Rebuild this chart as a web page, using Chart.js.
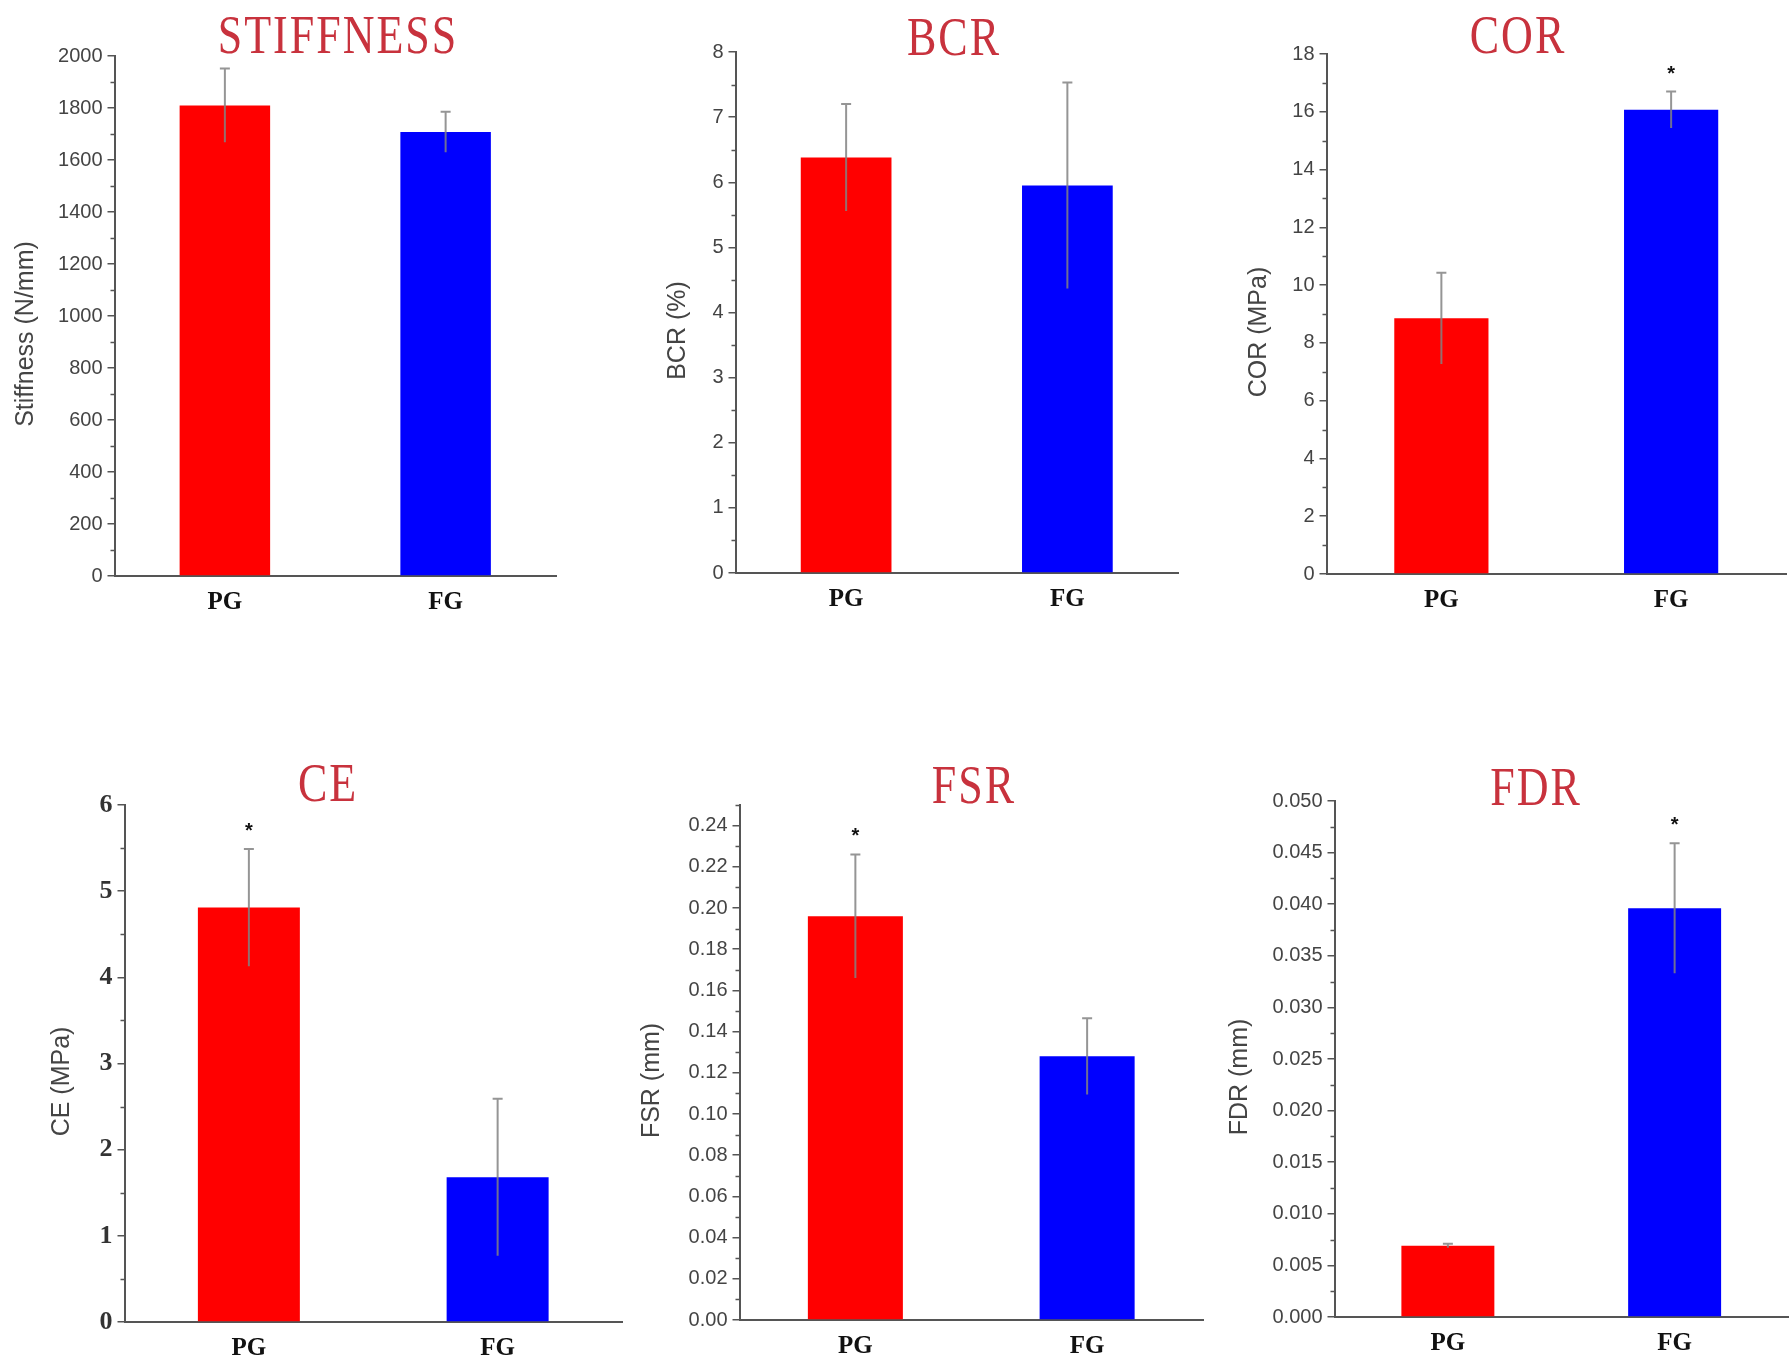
<!DOCTYPE html>
<html>
<head>
<meta charset="utf-8">
<script src="https://cdn.jsdelivr.net/npm/chart.js@4"></script>
<style>
  html, body { margin: 0; padding: 0; background: #fff; width: 1789px; height: 1369px; overflow: hidden; }
  canvas { position: absolute; }
</style>
</head>
<body>
<script>
// Group names on every x axis
const GROUPS = ["PG", "FG"];

// Means and standard deviations
const STIFF_MEAN = [1810, 1708];
const STIFF_SD = [142, 78];
const STIFF_SIG = [false, false];
const STIFF_TICKS = ["0", "200", "400", "600", "800", "1000", "1200", "1400", "1600", "1800", "2000"];

const BCR_MEAN = [6.38, 5.95];
const BCR_SD = [0.82, 1.58];
const BCR_SIG = [false, false];
const BCR_TICKS = ["0", "1", "2", "3", "4", "5", "6", "7", "8"];

const COR_MEAN = [8.85, 16.07];
const COR_SD = [1.58, 0.63];
const COR_SIG = [false, true];
const COR_TICKS = ["0", "2", "4", "6", "8", "10", "12", "14", "16", "18"];

const CE_MEAN = [4.81, 1.68];
const CE_SD = [0.68, 0.91];
const CE_SIG = [true, false];
const CE_TICKS = ["0", "1", "2", "3", "4", "5", "6"];

const FSR_MEAN = [0.196, 0.128];
const FSR_SD = [0.030, 0.0185];
const FSR_SIG = [true, false];
const FSR_TICKS = ["0.00", "0.02", "0.04", "0.06", "0.08", "0.10", "0.12", "0.14", "0.16", "0.18", "0.20", "0.22", "0.24"];

const FDR_MEAN = [0.0069, 0.0396];
const FDR_SD = [0.0002, 0.0063];
const FDR_SIG = [false, true];
const FDR_TICKS = ["0.000", "0.005", "0.010", "0.015", "0.020", "0.025", "0.030", "0.035", "0.040", "0.045", "0.050"];

const SANS = '"Liberation Sans", Arial, sans-serif';
const SERIF = '"Liberation Serif", "Times New Roman", serif';
const AXIS = "#555";

// Page layout: plot area box (page px), title anchor, y-title distance from the axis.
const PANELS = [
  { title: "STIFFNESS", yTitle: "Stiffness (N/mm)", mean: STIFF_MEAN, sd: STIFF_SD, sig: STIFF_SIG, ticks: STIFF_TICKS,
    max: 2000, minor: 100, area: [114, 56, 556, 576], canvasTop: 0, titleAt: [338, 53], yTitleGap: 88 },
  { title: "BCR", yTitle: "BCR (%)", mean: BCR_MEAN, sd: BCR_SD, sig: BCR_SIG, ticks: BCR_TICKS,
    max: 8, minor: 0.5, area: [735, 52, 1178, 573], canvasTop: 0, titleAt: [954, 55], yTitleGap: 57 },
  { title: "COR", yTitle: "COR (MPa)", mean: COR_MEAN, sd: COR_SD, sig: COR_SIG, ticks: COR_TICKS,
    max: 18, minor: 1, area: [1326, 54, 1786, 574], canvasTop: 0, titleAt: [1518, 53], yTitleGap: 67 },
  { title: "CE", yTitle: "CE (MPa)", mean: CE_MEAN, sd: CE_SD, sig: CE_SIG, ticks: CE_TICKS,
    max: 6, minor: 0.5, area: [124, 805, 622, 1322], canvasTop: 700, titleAt: [328, 801], yTitleGap: 62,
    tickFont: { family: SERIF, size: 26, weight: "bold" }, tickColor: "#333" },
  { title: "FSR", yTitle: "FSR (mm)", mean: FSR_MEAN, sd: FSR_SD, sig: FSR_SIG, ticks: FSR_TICKS,
    max: 0.25, minor: 0.01, area: [739, 805, 1203, 1320], canvasTop: 700, titleAt: [974, 803], yTitleGap: 87 },
  { title: "FDR", yTitle: "FDR (mm)", mean: FDR_MEAN, sd: FDR_SD, sig: FDR_SIG, ticks: FDR_TICKS,
    max: 0.05, minor: 0.0025, area: [1334, 801, 1788, 1317], canvasTop: 700, titleAt: [1536, 805], yTitleGap: 94 },
];

const Y_TITLE_SIZE = 25;
const Y_TITLE_DROP = 18;   // the axis titles sit a bit below the middle of the axis
const X_AXIS_H = 46;

function makePanel(p) {
  const [left, top, right, bottom] = p.area;
  const yWidth = p.yTitleGap + Y_TITLE_SIZE * 0.7;
  const canvasLeft = Math.round(left - yWidth);
  const canvas = document.createElement("canvas");
  canvas.width = right + 1 - canvasLeft;
  canvas.height = bottom + X_AXIS_H - p.canvasTop;
  canvas.style.left = canvasLeft + "px";
  canvas.style.top = p.canvasTop + "px";
  document.body.appendChild(canvas);

  // error bars (top cap only) and significance stars
  const errorBars = {
    id: "errorBars",
    afterDatasetsDraw(chart) {
      const { ctx } = chart;
      const y = chart.scales.y;
      chart.getDatasetMeta(0).data.forEach((bar, i) => {
        const yHi = y.getPixelForValue(p.mean[i] + p.sd[i]);
        const yLo = y.getPixelForValue(p.mean[i] - p.sd[i]);
        ctx.save();
        ctx.strokeStyle = "rgba(130,130,130,0.85)";
        ctx.lineWidth = 2;
        ctx.beginPath();
        ctx.moveTo(bar.x, yLo);
        ctx.lineTo(bar.x, yHi);
        ctx.moveTo(bar.x - 5, yHi);
        ctx.lineTo(bar.x + 5, yHi);
        ctx.stroke();
        if (p.sig[i]) {
          ctx.fillStyle = "#111";
          ctx.font = "bold 20px " + SANS;
          ctx.textAlign = "center";
          ctx.textBaseline = "alphabetic";
          ctx.fillText("*", bar.x, yHi - 12);
        }
        ctx.restore();
      });
    },
  };

  // short minor ticks between the labelled ones, plus the rotated axis title
  const axisExtras = {
    id: "axisExtras",
    afterDraw(chart) {
      const { ctx, chartArea } = chart;
      const y = chart.scales.y;
      const x0 = chartArea.left;
      const majors = p.ticks.map(Number);
      const n = Math.round(p.max / p.minor);
      ctx.save();
      ctx.strokeStyle = AXIS;
      ctx.lineWidth = 1.5;
      ctx.beginPath();
      for (let k = 0; k <= n; k++) {
        const v = k * p.minor;
        if (majors.some(m => Math.abs(m - v) < p.minor * 0.01)) continue;
        const py = Math.round(y.getPixelForValue(v)) + 0.5;
        ctx.moveTo(x0 - 4, py);
        ctx.lineTo(x0, py);
      }
      ctx.stroke();

      ctx.translate(x0 - p.yTitleGap, (chartArea.top + chartArea.bottom) / 2 + Y_TITLE_DROP);
      ctx.rotate(-Math.PI / 2);
      ctx.font = Y_TITLE_SIZE + "px " + SANS;
      ctx.fillStyle = "#444";
      ctx.textAlign = "center";
      ctx.textBaseline = "middle";
      ctx.fillText(p.yTitle, 0, 0);
      ctx.restore();
    },
  };

  // red serif heading, a little taller than wide as in the figure
  const heading = {
    id: "heading",
    afterDraw(chart) {
      const { ctx } = chart;
      ctx.save();
      ctx.translate(p.titleAt[0] - canvasLeft, p.titleAt[1] - p.canvasTop);
      ctx.scale(1, 1.25);
      ctx.font = "44px " + SERIF;
      ctx.letterSpacing = "2px";
      ctx.fillStyle = "#c8323d";
      ctx.textAlign = "center";
      ctx.textBaseline = "alphabetic";
      ctx.fillText(p.title, 0, 0);
      ctx.restore();
    },
  };

  new Chart(canvas, {
    type: "bar",
    data: {
      labels: GROUPS,
      datasets: [{
        data: p.mean,
        backgroundColor: ["#ff0000", "#0000ff"],
        borderWidth: 0,
        barPercentage: 0.41,
        categoryPercentage: 1,
      }],
    },
    options: {
      responsive: false,
      animation: false,
      devicePixelRatio: 1,
      layout: { padding: { top: top - p.canvasTop, right: 1, left: 0, bottom: 0 } },
      plugins: { legend: { display: false }, tooltip: { enabled: false }, title: { display: false } },
      scales: {
        x: {
          afterFit: s => { s.height = X_AXIS_H; },
          grid: { display: false, drawTicks: false },
          border: { color: AXIS, width: 2 },
          ticks: { font: { family: SERIF, size: 25, weight: "bold" }, color: "#111", padding: 12 },
        },
        y: {
          min: 0,
          max: p.max,
          afterFit: s => { s.width = yWidth; },
          afterBuildTicks: s => { s.ticks = p.ticks.map(t => ({ value: Number(t) })); },
          grid: { drawOnChartArea: false, drawTicks: true, tickLength: 7, color: AXIS, lineWidth: 1.5 },
          border: { color: AXIS, width: 2 },
          ticks: {
            autoSkip: false,
            padding: 5,
            color: p.tickColor || "#444",
            font: p.tickFont || { family: SANS, size: 20 },
            callback: (v, i) => p.ticks[i],
          },
          title: { display: false },
        },
      },
    },
    plugins: [errorBars, axisExtras, heading],
  });
}

PANELS.forEach(makePanel);
</script>
</body>
</html>
